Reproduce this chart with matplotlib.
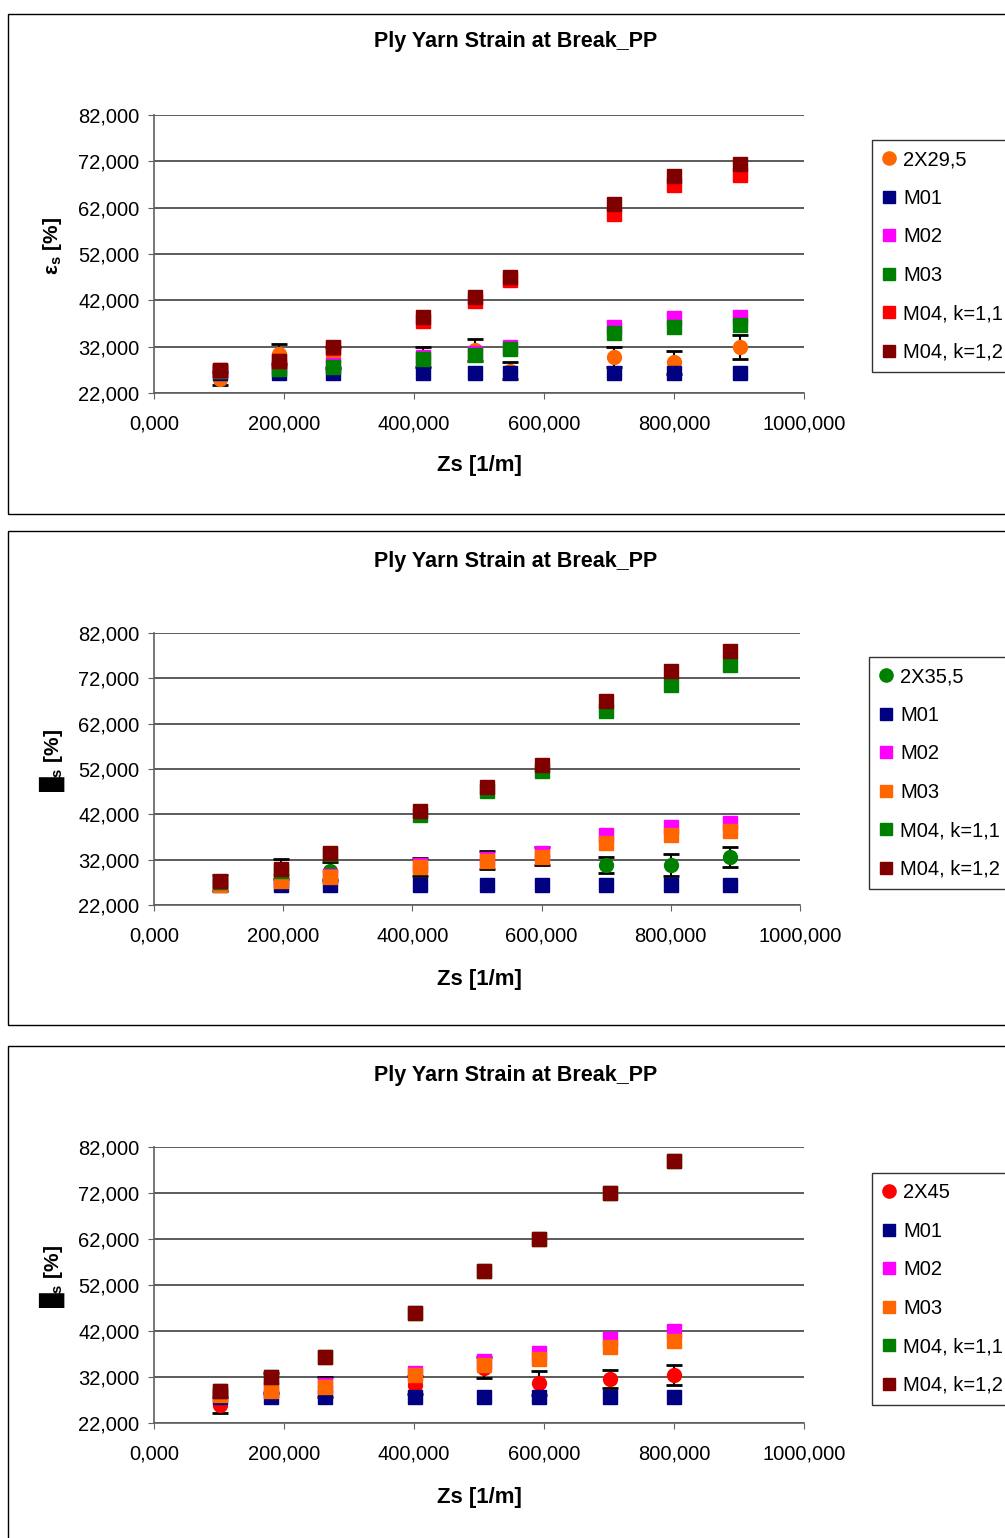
import matplotlib
matplotlib.use("Agg")
import matplotlib.pyplot as plt
from matplotlib.lines import Line2D
from matplotlib.patches import Rectangle
from matplotlib.ticker import FuncFormatter

plt.rcParams['font.family'] = ['Liberation Sans', 'DejaVu Sans']
plt.rcParams['mathtext.fontset'] = 'custom'
plt.rcParams['mathtext.rm'] = 'Liberation Sans'
plt.rcParams['mathtext.bf'] = 'Liberation Sans:bold'

# --- data (Zs [1/m], strain [%]) ---
zs_1 = [102, 192, 275, 414, 494, 547, 707, 800, 902]
p1_ply = [25.1, 30.4, 29.7, 29.8, 31.3, 26.8, 29.8, 28.6, 32.0]
p1_ply_err = [1.4, 2.2, 2.3, 2.2, 2.4, 1.8, 2.2, 2.4, 2.6]
p1_m01 = [26.3, 26.3, 26.3, 26.3, 26.3, 26.3, 26.3, 26.3, 26.3]
p1_m02 = [26.8, 27.6, 28.1, 29.8, 30.7, 31.9, 36.3, 38.1, 38.4]
p1_m03 = [26.7, 27.2, 27.6, 29.3, 30.3, 31.5, 35.0, 36.3, 36.7]
p1_m04a = [26.9, 28.8, 31.8, 37.6, 41.9, 46.3, 60.7, 66.8, 69.0]
p1_m04b = [27.0, 28.9, 31.9, 38.4, 42.8, 47.1, 62.8, 68.9, 71.5]

zs_2 = [102, 197, 272, 411, 516, 600, 699, 800, 891]
p2_ply = [26.9, 30.0, 29.5, 30.3, 32.0, 32.9, 30.8, 30.8, 32.6]
p2_ply_err = [1.8, 2.2, 2.0, 2.0, 2.0, 2.0, 1.8, 2.4, 2.2]
p2_m01 = [26.4, 26.4, 26.4, 26.4, 26.4, 26.4, 26.4, 26.4, 26.4]
p2_m02 = [26.6, 27.6, 28.5, 30.8, 32.1, 33.5, 37.4, 39.2, 40.1]
p2_m03 = [26.4, 27.3, 28.2, 30.4, 31.7, 32.6, 35.7, 37.4, 38.3]
p2_m04a = [27.0, 29.6, 33.2, 41.9, 47.2, 51.6, 64.9, 70.6, 75.0]
p2_m04b = [27.3, 29.9, 33.5, 42.7, 48.0, 52.9, 67.0, 73.7, 78.0]

zs_3 = [102, 180, 263, 402, 507, 593, 702, 800]
p3_ply = [25.9, 30.7, 29.9, 30.3, 34.0, 30.7, 31.6, 32.4]
p3_ply_err = [1.7, 2.2, 2.2, 2.0, 2.3, 2.6, 2.0, 2.2]
p3_m01 = [27.6, 27.6, 27.6, 27.6, 27.6, 27.6, 27.6, 27.6]
p3_m02 = [28.2, 29.2, 30.3, 32.9, 35.5, 37.2, 40.3, 42.0]
p3_m03 = [28.0, 28.9, 29.8, 32.4, 34.6, 35.9, 38.5, 39.8]
p3_m04a = [28.9, 32.0, 36.3, 45.9, 55.0, 62.0, 72.0, 79.0]
p3_m04b = [28.9, 32.0, 36.3, 45.9, 55.0, 62.0, 72.0, 79.0]

x_ticks = [0, 200, 400, 600, 800, 1000]
y_ticks = [22, 32, 42, 52, 62, 72, 82]
title = "Ply Yarn Strain at Break_PP"
series_labels = ["M01", "M02", "M03", "M04, k=1,1", "M04, k=1,2"]

ORANGE = '#FF6600'
NAVY = '#000080'
MAGENTA = '#FF00FF'
GREEN = '#008000'
RED = '#FF0000'
DARKRED = '#800000'

W, H = 1005, 1538
fig = plt.figure(figsize=(W / 100, H / 100), dpi=100)


def fx(px):
    return px / W


def fy(py):
    return 1 - py / H


comma = FuncFormatter(lambda v, p: f"{v:.3f}".replace('.', ','))


def panel(box, ax_px, zs, ply, ply_err, sq, ply_label, ply_color, sq_colors,
          ylab, title_y, xlab_y, leg_px):
    # panel frame
    bx0, by0, bx1, by1 = box
    fig.patches.append(Rectangle((fx(bx0), fy(by1)), fx(bx1 - bx0), (by1 - by0) / H,
                                 transform=fig.transFigure, fill=False,
                                 edgecolor='black', lw=1.0))
    l, r, t, b = ax_px
    ax = fig.add_axes([fx(l), fy(b), fx(r - l), (b - t) / H])
    ax.errorbar(zs, ply, yerr=ply_err, fmt='o', color=ply_color, ecolor='black',
                markersize=10, capsize=6, elinewidth=1.5, capthick=2, zorder=2)
    for vals, c in zip(sq, sq_colors):
        ax.plot(zs, vals, 's', color=c, markersize=10, zorder=3)
    ax.set_xlim(0, 1000)
    ax.set_ylim(22, 82)
    ax.set_xticks(x_ticks)
    ax.set_yticks(y_ticks)
    ax.xaxis.set_major_formatter(comma)
    ax.yaxis.set_major_formatter(comma)
    ax.grid(axis='y', color='#404040', lw=1.2)
    ax.set_axisbelow(True)
    for s in ['top', 'right']:
        ax.spines[s].set_visible(False)
    for s in ['left', 'bottom']:
        ax.spines[s].set_color('#606060')
        ax.spines[s].set_linewidth(1.2)
    ax.tick_params(labelsize=14.5, length=4.5, color='#606060')
    ax.tick_params(axis='x', pad=11)
    ax.tick_params(axis='y', pad=6)
    fig.text(fx(516), fy(title_y), title, ha='center', va='center',
             fontsize=15.5, fontweight='bold')
    fig.text(fx(479), fy(xlab_y), "Zs [1/m]", ha='center', va='center',
             fontsize=16, fontweight='bold')
    fig.text(fx(52), fy((t + b) / 2 - 8), ylab, ha='center', va='center',
             rotation=90, fontsize=15, fontweight='bold')
    handles = [Line2D([], [], marker='o', ls='none', color=ply_color, markersize=9.5)]
    handles += [Line2D([], [], marker='s', ls='none', color=c, markersize=8.5)
                for c in sq_colors]
    leg = fig.legend(handles, [ply_label] + series_labels, loc='upper left',
                     bbox_to_anchor=(fx(leg_px[0]), fy(leg_px[1])),
                     fontsize=14.5, frameon=True, fancybox=False, edgecolor='black',
                     handlelength=0.7, handletextpad=0.35, labelspacing=0.97,
                     borderpad=0.5, borderaxespad=0)
    leg.get_frame().set_linewidth(1.0)
    return ax


panel((8, 14, 1010, 514), (154, 804, 115, 393), zs_1, p1_ply, p1_ply_err,
      [p1_m01, p1_m02, p1_m03, p1_m04a, p1_m04b], "2X29,5", ORANGE,
      [NAVY, MAGENTA, GREEN, RED, DARKRED], r'ε$_\mathbf{s}$ [%]', 42, 466, (872, 140))

panel((8, 531, 1010, 1025), (154, 800, 633, 905), zs_2, p2_ply, p2_ply_err,
      [p2_m01, p2_m02, p2_m03, p2_m04a, p2_m04b], "2X35,5", GREEN,
      [NAVY, MAGENTA, ORANGE, GREEN, DARKRED], r'█$_\mathbf{s}$ [%]', 561, 979, (869, 657))

panel((8, 1046, 1010, 1545), (154, 804, 1147, 1423), zs_3, p3_ply, p3_ply_err,
      [p3_m01, p3_m02, p3_m03, p3_m04a, p3_m04b], "2X45", RED,
      [NAVY, MAGENTA, ORANGE, GREEN, DARKRED], r'█$_\mathbf{s}$ [%]', 1075, 1497, (872, 1173))

fig.savefig("out.png", dpi=100)
